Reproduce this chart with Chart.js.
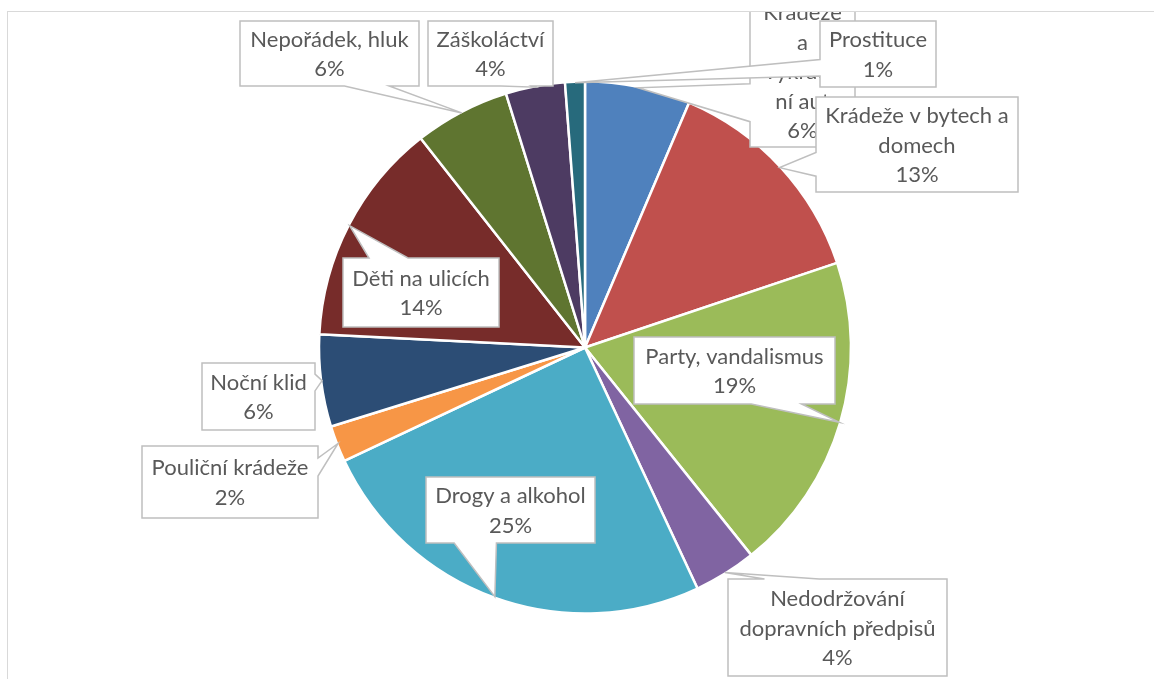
<!DOCTYPE html>
<html>
<head>
<meta charset="utf-8">
<script src="https://cdn.jsdelivr.net/npm/chart.js"></script>
<style>
  html, body { margin: 0; padding: 0; background: #fff; overflow: hidden; }
  #frame { position: absolute; left: 7px; top: 11px; width: 1160px; height: 680px; border: 1px solid #d9d9d9; }
  #wrap { position: relative; width: 1146px; height: 667px; }
</style>
</head>
<body>
<div id="frame"><div id="wrap"><canvas id="pieChart"></canvas></div></div>
<script>
const categories = [
    "Krádeže a vykrádání aut",
    "Krádeže v bytech a domech",
    "Party, vandalismus",
    "Nedodržování dopravních předpisů",
    "Drogy a alkohol",
    "Pouliční krádeže",
    "Noční klid",
    "Děti na ulicích",
    "Nepořádek, hluk",
    "Záškoláctví",
    "Prostituce"
];
const shares = [6.4, 13.45, 19.4, 3.8, 24.95, 2.2, 5.6, 13.6, 5.8, 3.6, 1.2];
const sliceColors = [
    "#4F81BD", "#C0504D", "#9BBB59", "#8064A2", "#4BACC6", "#F79646",
    "#2C4D75", "#772C2A", "#5F7530", "#4D3B62", "#276A7C"
];

// callout boxes: [left, top] offset from the pie centre, width, height, wrap width
const calloutBoxes = [
    [165, -352.5, 105, 152, 85],
    [231, -250.5, 202, 95, 194],
    [49, -10.5, 201, 67, 194],
    [143, 231.5, 219, 97, 211],
    [-159, 129.5, 169, 66, 162],
    [-443, 98.5, 176, 72, 170],
    [-383, 15.5, 113, 67, 107],
    [-242, -89.5, 156, 69, 150],
    [-345, -326.5, 179, 65, 173],
    [-157, -326.5, 125, 65, 120],
    [235, -326.5, 116, 66, 110]
];

function wrapText(ctx, text, maxW) {
    const lines = [];
    let line = "";
    for (const word of text.split(" ")) {
        let w = word;
        const test = line ? line + " " + w : w;
        if (ctx.measureText(test).width <= maxW) { line = test; continue; }
        if (line) { lines.push(line); line = ""; }
        while (ctx.measureText(w).width > maxW && w.length > 1) {
            let i = w.length;
            while (i > 1 && ctx.measureText(w.slice(0, i)).width > maxW) i--;
            lines.push(w.slice(0, i));
            w = w.slice(i);
        }
        line = w;
    }
    if (line) lines.push(line);
    return lines;
}

// rectangle with a wedge tail pointing to (ax, ay)
function calloutPath(ctx, x, y, w, h, ax, ay) {
    const cx = x + w / 2, cy = y + h / 2;
    const rx = (ax - cx) / w, ry = (ay - cy) / h;
    const vertical = Math.abs(ry) >= Math.abs(rx);
    const side = vertical ? (ry < 0 ? "top" : "bottom") : (rx < 0 ? "left" : "right");
    const fx = ax < cx ? [1 / 6, 5 / 12] : [7 / 12, 5 / 6];
    const fy = ay < cy ? [1 / 6, 5 / 12] : [7 / 12, 5 / 6];
    ctx.beginPath();
    ctx.moveTo(x, y);
    if (side === "top") {
        ctx.lineTo(x + w * fx[0], y); ctx.lineTo(ax, ay); ctx.lineTo(x + w * fx[1], y);
    }
    ctx.lineTo(x + w, y);
    if (side === "right") {
        ctx.lineTo(x + w, y + h * fy[0]); ctx.lineTo(ax, ay); ctx.lineTo(x + w, y + h * fy[1]);
    }
    ctx.lineTo(x + w, y + h);
    if (side === "bottom") {
        ctx.lineTo(x + w * fx[1], y + h); ctx.lineTo(ax, ay); ctx.lineTo(x + w * fx[0], y + h);
    }
    ctx.lineTo(x, y + h);
    if (side === "left") {
        ctx.lineTo(x, y + h * fy[1]); ctx.lineTo(ax, ay); ctx.lineTo(x, y + h * fy[0]);
    }
    ctx.closePath();
}

const calloutPlugin = {
    id: "callouts",
    afterDatasetsDraw(chart) {
        const ctx = chart.ctx;
        const meta = chart.getDatasetMeta(0);
        const values = chart.data.datasets[0].data;
        const total = values.reduce((a, b) => a + b, 0);
        const lineH = 29.5;
        ctx.save();
        ctx.font = "22px Lato";
        meta.data.forEach((arc, i) => {
            const p = arc.getProps(["x", "y", "startAngle", "endAngle", "outerRadius"], true);
            const mid = (p.startAngle + p.endAngle) / 2;
            const ax = p.x + Math.cos(mid) * (p.outerRadius - 1);
            const ay = p.y + Math.sin(mid) * (p.outerRadius - 1);
            const [dx, dy, w, h, wrapW] = calloutBoxes[i];
            const bx = p.x + dx, by = p.y + dy;

            calloutPath(ctx, bx, by, w, h, ax, ay);
            ctx.fillStyle = "#ffffff";
            ctx.fill();
            ctx.lineWidth = 1.5;
            ctx.strokeStyle = "#bfbfbf";
            ctx.stroke();

            const lines = wrapText(ctx, chart.data.labels[i], wrapW);
            lines.push(Math.round(values[i] / total * 100) + "%");
            ctx.fillStyle = "#595959";
            ctx.textAlign = "center";
            ctx.textBaseline = "middle";
            const startY = by + h / 2 - (lines.length - 1) / 2 * lineH + 1;
            lines.forEach((t, k) => ctx.fillText(t, bx + w / 2, startY + k * lineH));
        });
        ctx.restore();
    }
};

new Chart(document.getElementById("pieChart"), {
    type: "pie",
    data: {
        labels: categories,
        datasets: [{
            data: shares,
            backgroundColor: sliceColors,
            borderColor: "#ffffff",
            borderWidth: 2.5
        }]
    },
    options: {
        responsive: true,
        maintainAspectRatio: false,
        animation: false,
        radius: 266,
        layout: { padding: { left: 312, right: 304, top: 70.5, bottom: 66.5 } },
        plugins: {
            legend: { display: false },
            tooltip: { enabled: false }
        }
    },
    plugins: [calloutPlugin]
});
</script>
</body>
</html>
